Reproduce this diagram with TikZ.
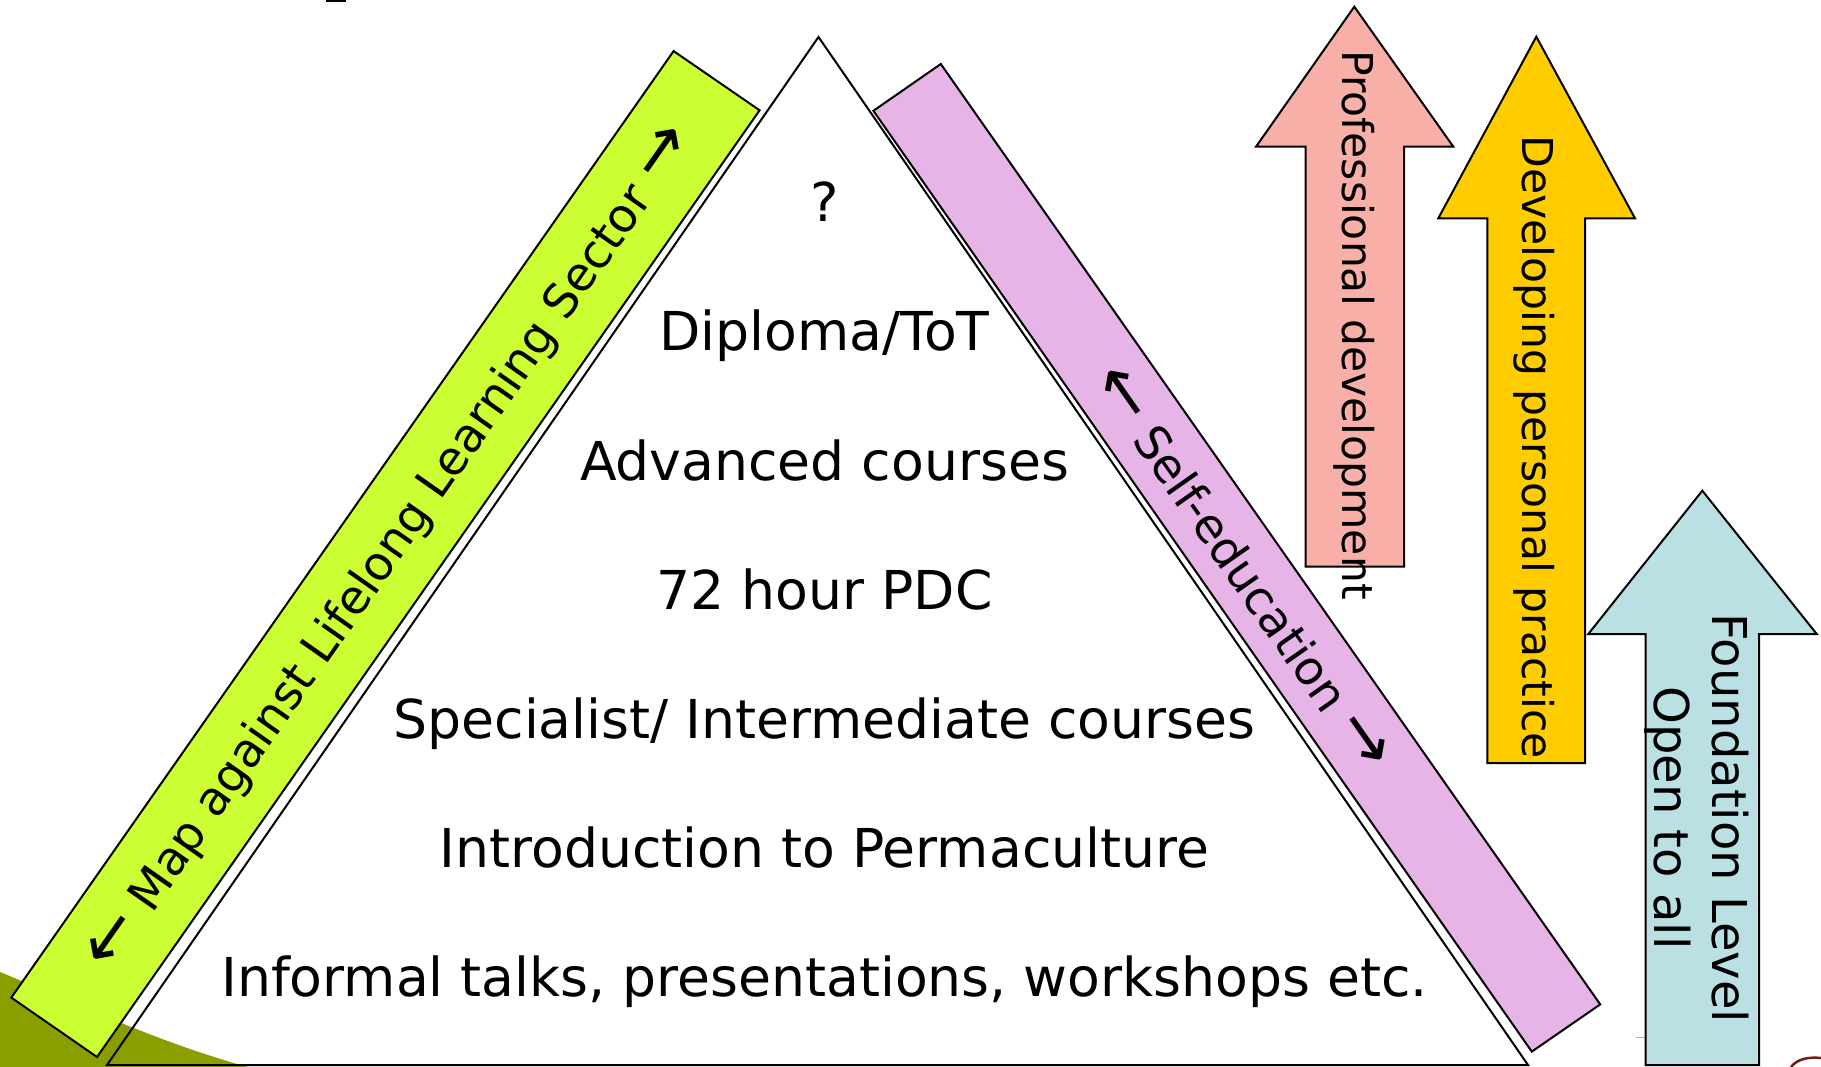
\documentclass[tikz,border=0pt]{standalone}
\usepackage{fontspec}
\setmainfont{DejaVu Sans}
\definecolor{barGreen}{RGB}{204,255,51}
\definecolor{barPurple}{RGB}{230,180,230}
\definecolor{arrPink}{RGB}{248,175,168}
\definecolor{arrYellow}{RGB}{255,204,0}
\definecolor{arrBlue}{RGB}{187,224,227}
\definecolor{olive}{RGB}{138,158,0}
\definecolor{brownarc}{RGB}{110,30,20}
\newcommand{\bigla}{{\fontsize{68}{68}\selectfont ←}}
\newcommand{\bigra}{{\fontsize{68}{68}\selectfont →}}
\tikzset{
  outline/.style={draw=black, line width=2pt, line join=miter},
  level/.style={font=\fontsize{53.6}{64}\selectfont, inner sep=0pt, anchor=base},
  bartext/.style={font=\fontsize{47}{56}\selectfont, inner sep=0pt, align=center},
  sidetext/.style={font=\fontsize{42.5}{52}\selectfont, inner sep=0pt, align=center},
}
\begin{document}
\begin{tikzpicture}[x=1pt,y=-1pt]
\useasboundingbox (0,0) rectangle (1821,1067);
\fill[white] (0,0) rectangle (1821,1067);
% olive background shape
\fill[olive] (0,972) .. controls (80,1005) and (160,1043) .. (248,1067) -- (0,1067) -- cycle;
% brown arc bottom right
\draw[brownarc, line width=2.5pt] (1791,1067) .. controls (1798,1058) and (1810,1057) .. (1821,1058);
% title fragment
\fill[black] (326,0) rectangle (346,2.5);
% small grey tick
\draw[gray!60, line width=1pt] (1636,1037) -- (1645,1037);
% pyramid
\draw[outline] (818.5,37) -- (1528,1065) -- (107,1065) -- cycle;
% side bars
\draw[outline, fill=barGreen] (673.6,51.1) -- (759.6,110.3) -- (97,1057) -- (11.3,997.6) -- cycle;
\draw[outline, fill=barPurple] (873.4,110.8) -- (940.8,64) -- (1600.2,1004.4) -- (1531.8,1051.6) -- cycle;
% arrows
\draw[outline, fill=arrPink] (1354.3,6.7) -- (1453.3,146.7) -- (1404,146.7) -- (1404,566.7) -- (1305.7,566.7) -- (1305.7,146.7) -- (1256,146.7) -- cycle;
\draw[outline, fill=arrYellow] (1536.3,36.7) -- (1635,218.3) -- (1585,218.3) -- (1585,763) -- (1487.3,763) -- (1487.3,218.3) -- (1438.3,218.3) -- cycle;
\draw[outline, fill=arrBlue] (1702.3,490.7) -- (1816.7,634) -- (1759,634) -- (1759,1065) -- (1645.7,1065) -- (1645.7,634) -- (1588.3,634) -- cycle;
% pyramid levels
\node[level] (q)   at (824.5,222) {?};
\node[level] (dip) at (824.5,351) {Diploma/ToT};
\node[level] (adv) at (824.5,480) {Advanced courses};
\node[level] (pdc) at (824.5,609) {72 hour PDC};
\node[level] (spe) at (824.5,738) {Specialist/ Intermediate courses};
\node[level] (int) at (824.5,867) {Introduction to Permaculture};
\node[level] (inf) at (824.5,996) {Informal talks, presentations, workshops etc.};
% bar texts
\node[bartext, rotate=55] (map) at (392,549) {\bigla\ Map against Lifelong Learning Sector \bigra};
\node[bartext, rotate=-55] (self) at (1242,568) {\bigla\ Self-education \bigra};
% arrow texts
\node[sidetext, rotate=-90] (prof) at (1354,325) {Professional development};
\node[sidetext, rotate=-90] (dev) at (1534,447) {Developing personal practice};
\node[sidetext, rotate=-90, font=\fontsize{48}{58}\selectfont] (found) at (1697,818) {Foundation Level\\Open to all};
\end{tikzpicture}
\end{document}
